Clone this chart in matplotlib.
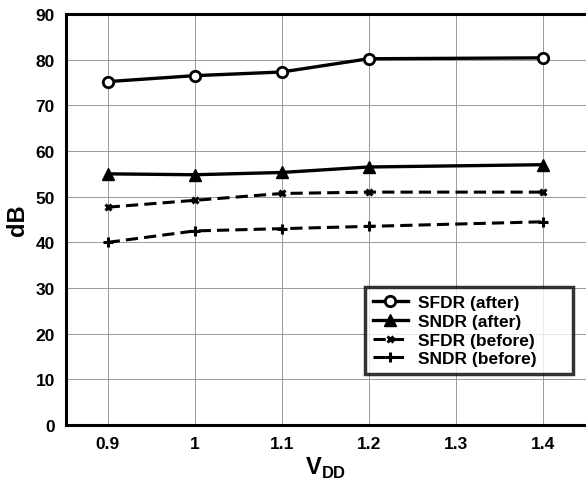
import matplotlib
matplotlib.use("Agg")
import matplotlib.pyplot as plt

plt.rcParams['font.family'] = ['Liberation Sans', 'DejaVu Sans']
plt.rcParams['font.weight'] = 'bold'
plt.rcParams['mathtext.fontset'] = 'custom'
plt.rcParams['mathtext.rm'] = 'Liberation Sans:bold'
plt.rcParams['mathtext.bf'] = 'Liberation Sans:bold'

vdd = [0.9, 1.0, 1.1, 1.2, 1.4]
sfdr_after = [75.2, 76.5, 77.3, 80.2, 80.4]
sndr_after = [55.0, 54.8, 55.3, 56.5, 57.0]
sfdr_before = [47.7, 49.2, 50.7, 51.0, 51.0]
sndr_before = [40.0, 42.5, 43.0, 43.5, 44.5]
xticks = [0.9, 1.0, 1.1, 1.2, 1.3, 1.4]
xticklabels = ['0.9', '1', '1.1', '1.2', '1.3', '1.4']
yticks = list(range(0, 91, 10))

fig = plt.figure(figsize=(5.86, 4.81), dpi=100)
ax = fig.add_axes([0.1126, 0.1143, 0.8874, 0.8545])

ax.plot(vdd, sfdr_after, '-', color='black', lw=2.4, marker='o', ms=7.5,
        mfc='white', mec='black', mew=2, label='SFDR (after)')
ax.plot(vdd, sndr_after, '-', color='black', lw=2.4, marker='^', ms=8.5,
        mfc='black', mec='black', label='SNDR (after)')
ax.plot(vdd, sfdr_before, '--', color='black', lw=2.2, marker='x', ms=5,
        mew=2.2, label='SFDR (before)', dashes=(4, 2))
ax.plot(vdd, sndr_before, '--', color='black', lw=2.2, marker='+', ms=7,
        mew=2.2, label='SNDR (before)', dashes=(4, 2))

ax.set_xlim(0.852, 1.45)
ax.set_ylim(0, 90)
ax.set_xticks(xticks)
ax.set_xticklabels(xticklabels)
ax.set_yticks(yticks)
ax.tick_params(length=0, labelsize=12.5, pad=8)
for lab in ax.get_xticklabels() + ax.get_yticklabels():
    lab.set_fontweight('bold')
ax.grid(True, color='#999999', lw=0.7)
ax.set_axisbelow(True)
for side in ['left', 'bottom', 'top']:
    ax.spines[side].set_linewidth(2.2)
ax.spines['right'].set_visible(False)

ax.set_ylabel('dB', fontsize=17, fontweight='bold', labelpad=5)
ax.set_xlabel(r'V$_{\mathrm{DD}}$', fontsize=17, fontweight='bold', labelpad=3)

leg = ax.legend(loc='lower left', bbox_to_anchor=(0.575, 0.124, 0.40, 0.19),
                mode='expand', frameon=True, fancybox=False, edgecolor='black',
                handlelength=2.0, handletextpad=0.6, borderpad=0.45,
                labelspacing=0.2, borderaxespad=0,
                prop={'weight': 'bold', 'size': 12.5})
leg.get_frame().set_linewidth(2.5)

fig.savefig('out.png', dpi=100)
